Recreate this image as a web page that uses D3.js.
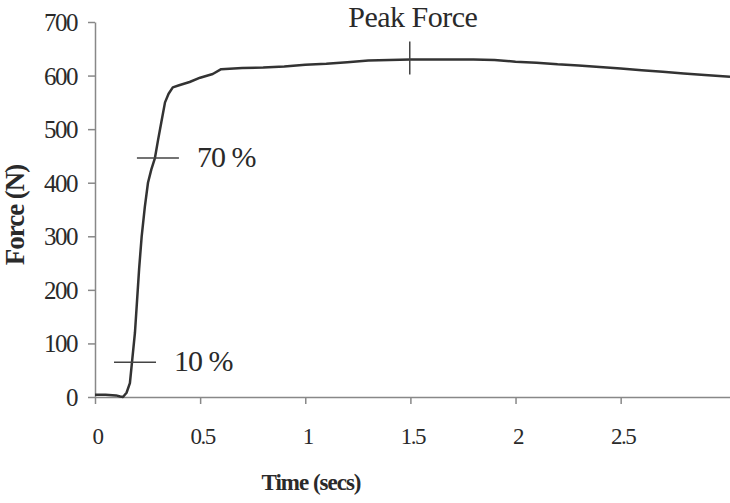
<!DOCTYPE html>
<html>
<head>
<meta charset="utf-8">
<script src="https://cdn.jsdelivr.net/npm/d3@7"></script>
<style>
  body { margin: 0; background: #fff; }
  svg { display: block; }
  svg text { font-family: "Liberation Serif", "Times New Roman", serif; }
</style>
</head>
<body>
<div class="viz"></div>
<script>
var SVGwd = 730, SVGht = 503;

// force trace
var time  = [0, 0.05, 0.10, 0.12, 0.133, 0.15, 0.166, 0.176, 0.19, 0.20, 0.21, 0.222, 0.237, 0.252, 0.268, 0.285, 0.30, 0.315, 0.333, 0.35, 0.37, 0.40, 0.45, 0.50, 0.56, 0.60, 0.70, 0.80, 0.90, 1.00, 1.10, 1.20, 1.30, 1.40, 1.50, 1.60, 1.70, 1.80, 1.90, 2.00, 2.10, 2.20, 2.30, 2.40, 2.50, 2.60, 2.70, 2.80, 2.90, 3.02];
var force = [4, 4, 3, 1, 0, 8, 26, 65, 120, 180, 240, 300, 355, 400, 425, 446, 480, 512, 550, 566, 578, 582, 588, 596, 603, 612, 614, 615, 617, 620, 622, 625, 628, 629, 630, 630, 630, 630, 629, 626, 624, 621, 619, 616, 613, 610, 607, 604, 601, 598];

var yTicks = [0, 100, 200, 300, 400, 500, 600, 700];
var xTicks = [0, 0.5, 1, 1.5, 2, 2.5];

// marked points: [time, force, label]
var markers = [
  { t: 0.176, f: 65,  label: "10 %" },
  { t: 0.285, f: 446, label: "70 %" }
];
var peak = { t: 1.497, f: 630, label: "Peak Force" };

var canvas = d3.select(".viz")
    .append("svg")
    .attr("width", SVGwd)
    .attr("height", SVGht);

var x = d3.scaleLinear().domain([0, 3.02]).range([95, 730]);
var y = d3.scaleLinear().domain([0, 700]).range([397, 22]);

// y axis
var yAxis = canvas.append("g")
    .attr("transform", "translate(" + x(0) + ",0)")
    .call(d3.axisLeft(y).tickValues(yTicks).tickSize(7).tickSizeOuter(0).tickPadding(11));
yAxis.select(".domain").attr("stroke", "#888").attr("stroke-width", 1.5);
yAxis.selectAll(".tick line").attr("stroke", "#888").attr("stroke-width", 1.5);
yAxis.selectAll(".tick text")
    .attr("fill", "#2a2a2a")
    .style("font-family", "'Liberation Serif', serif")
    .style("font-size", "25px")
    .style("letter-spacing", "-1.5px")
    .attr("dy", "0.34em");

// x axis
var xAxis = canvas.append("g")
    .attr("transform", "translate(0," + y(0) + ")")
    .call(d3.axisBottom(x).tickValues(xTicks).tickFormat(d3.format("")).tickSize(7).tickSizeOuter(0).tickPadding(33));
xAxis.select(".domain").attr("stroke", "#888").attr("stroke-width", 1.5);
xAxis.selectAll(".tick line").attr("stroke", "#888").attr("stroke-width", 1.5);
xAxis.selectAll(".tick text")
    .attr("fill", "#2a2a2a")
    .style("font-family", "'Liberation Serif', serif")
    .style("font-size", "23px")
    .style("letter-spacing", "-1.5px")
    .attr("dx", 2)
    .attr("dy", "0.32em");

// axis titles
canvas.append("text")
    .attr("x", 311)
    .attr("y", 490)
    .attr("text-anchor", "middle")
    .attr("fill", "#2a2a2a")
    .style("font-size", "23px")
    .style("font-weight", "bold")
    .style("letter-spacing", "-1px")
    .text("Time (secs)");

canvas.append("text")
    .attr("transform", "translate(24,215) rotate(-90)")
    .attr("text-anchor", "middle")
    .attr("fill", "#2a2a2a")
    .style("font-size", "27px")
    .style("font-weight", "bold")
    .style("letter-spacing", "-1px")
    .text("Force (N)");

// force trace
var line = d3.line()
    .x(function (d, i) { return x(time[i]); })
    .y(function (d) { return y(d); });

canvas.append("path")
    .datum(force)
    .attr("fill", "none")
    .attr("stroke", "#333")
    .attr("stroke-width", 2.5)
    .attr("stroke-linejoin", "round")
    .attr("d", line);

// percentage markers
markers.forEach(function (m) {
    canvas.append("line")
        .attr("x1", x(m.t) - 18)
        .attr("x2", x(m.t) + 24)
        .attr("y1", y(m.f))
        .attr("y2", y(m.f))
        .attr("stroke", "#444")
        .attr("stroke-width", 1.5);
    canvas.append("text")
        .attr("x", x(m.t) + 42)
        .attr("y", y(m.f) + 9)
        .attr("fill", "#2a2a2a")
        .style("font-size", "30px")
        .style("letter-spacing", "-1px")
        .text(m.label);
});

// peak marker
canvas.append("line")
    .attr("x1", x(peak.t))
    .attr("x2", x(peak.t))
    .attr("y1", y(peak.f) - 18)
    .attr("y2", y(peak.f) + 15)
    .attr("stroke", "#444")
    .attr("stroke-width", 1.5);
canvas.append("text")
    .attr("x", x(peak.t) + 3)
    .attr("y", 27)
    .attr("text-anchor", "middle")
    .attr("fill", "#2a2a2a")
    .style("font-size", "30px")
    .style("letter-spacing", "-0.5px")
    .text(peak.label);
</script>
</body>
</html>
